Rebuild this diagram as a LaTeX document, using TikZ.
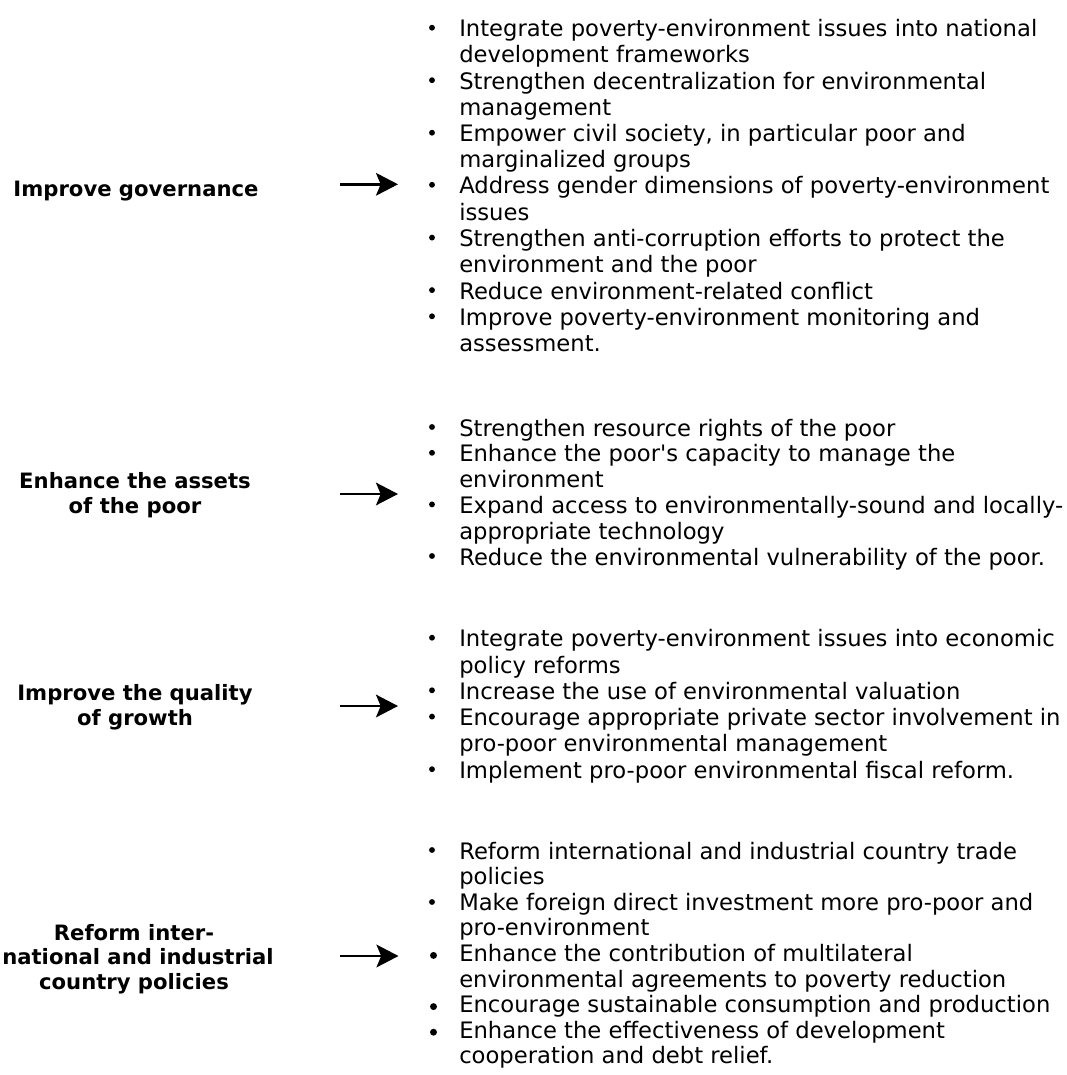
\documentclass[tikz,border=0pt]{standalone}
\usepackage{fontspec}
\setmainfont{DejaVu Sans}[Ligatures=TeXOff]
\usetikzlibrary{arrows.meta}
\newlength\refwidth
\newlength\labwidth
\begin{document}
\settowidth\refwidth{\fontsize{10pt}{12pt}\selectfont Integrate poverty-environment issues into national}%
\pgfmathsetmacro\fsz{10*433.5/\refwidth}%
\settowidth\labwidth{\fontsize{10pt}{12pt}\selectfont\bfseries Improve governance}%
\pgfmathsetmacro\lsz{10*183.75/\labwidth}%
\begin{tikzpicture}[x=0.75pt,y=-0.75pt]
\tikzset{
  body/.style={anchor=base west, inner sep=0pt, font=\fontsize{\fsz pt}{\fsz pt}\selectfont},
  lab/.style={anchor=base, inner sep=0pt, font=\fontsize{\lsz pt}{\lsz pt}\selectfont\bfseries},
  bul/.style={fill=black, draw=none, circle, inner sep=0pt, minimum size=4.4pt},
  bulb/.style={fill=black, draw=none, circle, inner sep=0pt, minimum size=5.2pt},
  conn/.style={line width=1.8pt, -{Stealth[length=16.5pt, width=17pt, inset=3.5pt]}}
}
\useasboundingbox (0,0) rectangle (1067,1075);
% ---------- group 1
\node[lab] (l1) at (136,196) {Improve governance};
\coordinate (a1s) at (339.5,184.3);
\coordinate (a1e) at (398,184.3);
\draw[conn] (a1s) -- (a1e);
\node[body] (g1a) at (459,36.7) {Integrate poverty-environment issues into national};
\node[body] (g1b) at (459,62.9) {development frameworks};
\node[body] (g1c) at (459,89.2) {Strengthen decentralization for environmental};
\node[body] (g1d) at (459,115.4) {management};
\node[body] (g1e) at (459,141.7) {Empower civil society, in particular poor and};
\node[body] (g1f) at (459,167.9) {marginalized groups};
\node[body] (g1g) at (459,193.8) {Address gender dimensions of poverty-environment};
\node[body] (g1h) at (459,220.4) {issues};
\node[body] (g1i) at (459,246.6) {Strengthen anti-corruption efforts to protect the};
\node[body] (g1j) at (459,272.9) {environment and the poor};
\node[body] (g1k) at (459,299.1) {Reduce environment-related conflict};
\node[body] (g1l) at (459,325.3) {Improve poverty-environment monitoring and};
\node[body] (g1m) at (459,351.6) {assessment.};
\node[bul] (b1a) at (432,27.7) {};
\node[bul] (b1c) at (432,80.2) {};
\node[bul] (b1e) at (432,132.7) {};
\node[bul] (b1g) at (432,184.8) {};
\node[bul] (b1i) at (432,237.6) {};
\node[bul] (b1k) at (432,290.1) {};
\node[bul] (b1l) at (432,316.3) {};
% ---------- group 2
\node[lab] (l2a) at (135,488) {Enhance the assets};
\node[lab] (l2b) at (135,513) {of the poor};
\coordinate (a2s) at (339.5,494);
\coordinate (a2e) at (398,494);
\draw[conn] (a2s) -- (a2e);
\node[body] (g2a) at (459,436) {Strengthen resource rights of the poor};
\node[body] (g2b) at (459,461.8) {Enhance the poor's capacity to manage the};
\node[body] (g2c) at (459,487.6) {environment};
\node[body] (g2d) at (459,513.4) {Expand access to environmentally-sound and locally-};
\node[body] (g2e) at (459,539.2) {appropriate technology};
\node[body] (g2f) at (459,565) {Reduce the environmental vulnerability of the poor.};
\node[bul] (b2a) at (432,427) {};
\node[bul] (b2b) at (432,452.8) {};
\node[bul] (b2d) at (432,504.4) {};
\node[bul] (b2f) at (432,556) {};
% ---------- group 3
\node[lab] (l3a) at (135,700) {Improve the quality};
\node[lab] (l3b) at (135,725) {of growth};
\coordinate (a3s) at (339.5,706);
\coordinate (a3e) at (398,706);
\draw[conn] (a3s) -- (a3e);
\node[body] (g3a) at (459,646.7) {Integrate poverty-environment issues into economic};
\node[body] (g3b) at (459,673) {policy reforms};
\node[body] (g3c) at (459,699.3) {Increase the use of environmental valuation};
\node[body] (g3d) at (459,725.6) {Encourage appropriate private sector involvement in};
\node[body] (g3e) at (459,751.9) {pro-poor environmental management};
\node[body] (g3f) at (459,778.2) {Implement pro-poor environmental fiscal reform.};
\node[bul] (b3a) at (432,637.7) {};
\node[bul] (b3c) at (432,690.3) {};
\node[bul] (b3d) at (432,716.6) {};
\node[bul] (b3f) at (432,769.2) {};
% ---------- group 4
\node[lab] (l4a) at (134,940) {Reform inter-};
\node[lab] (l4b) at (138,964.5) {national and industrial};
\node[lab] (l4c) at (134,989) {country policies};
\coordinate (a4s) at (340,956);
\coordinate (a4e) at (398.5,956);
\draw[conn] (a4s) -- (a4e);
\node[body] (g4a) at (459,859) {Reform international and industrial country trade};
\node[body] (g4b) at (459,884.6) {policies};
\node[body] (g4c) at (459,910.2) {Make foreign direct investment more pro-poor and};
\node[body] (g4d) at (459,935.8) {pro-environment};
\node[body] (g4e) at (459,961.4) {Enhance the contribution of multilateral};
\node[body] (g4f) at (459,987) {environmental agreements to poverty reduction};
\node[body] (g4g) at (459,1012.6) {Encourage sustainable consumption and production};
\node[body] (g4h) at (459,1038.2) {Enhance the effectiveness of development};
\node[body] (g4i) at (459,1063.8) {cooperation and debt relief.};
\node[bul] (b4a) at (432,850) {};
\node[bul] (b4c) at (432,902) {};
\node[bulb] (b4e) at (433.5,955.4) {};
\node[bulb] (b4g) at (433.5,1006.6) {};
\node[bulb] (b4h) at (433.5,1032.2) {};
\end{tikzpicture}
\end{document}
